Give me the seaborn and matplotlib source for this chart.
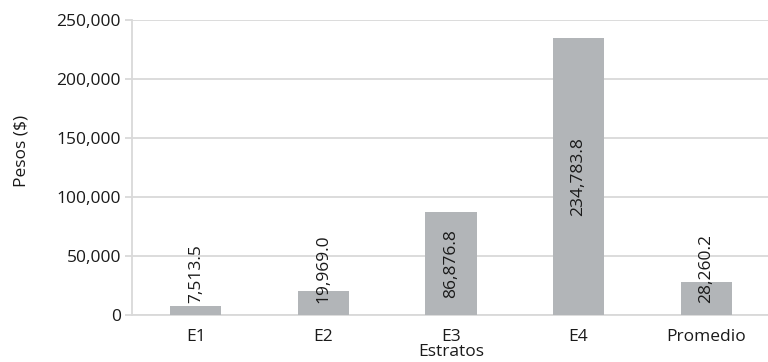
import matplotlib
matplotlib.use("Agg")
import matplotlib.pyplot as plt
import seaborn as sns
import pandas as pd
import numpy as np
from matplotlib.ticker import FuncFormatter, FixedLocator

categories = ["E1", "E2", "E3", "E4", "Promedio"]
values = [7513.5, 19969.0, 86876.8, 234783.8, 28260.2]
value_labels = ["7,513.5", "19,969.0", "86,876.8", "234,783.8", "28,260.2"]
y_ticks = [0, 50000, 100000, 150000, 200000, 250000]

sns.set_theme(style="white")
plt.rcParams["font.family"] = ["Open Sans", "DejaVu Sans"]

df = pd.DataFrame({"Estratos": categories, "Pesos": values})

fig = plt.figure(figsize=(7.68, 3.62), dpi=100)
ax = fig.add_axes([132 / 768, 1 - 315 / 362, 638 / 768, 295 / 362])

grid_c = "#d9d9d9"
txt_c = "#1a1a1a"
fs = 12.5
sns.barplot(data=df, x="Estratos", y="Pesos", color="#b2b5b8", width=0.4,
            saturation=1, linewidth=0, ax=ax, zorder=3)

ax.set_ylim(0, 250000)
ax.set_xlim(-0.5, 4.5)
ax.yaxis.set_major_locator(FixedLocator(y_ticks))
ax.yaxis.set_major_formatter(FuncFormatter(lambda v, p: f"{int(v):,}"))
ax.grid(axis="y", color=grid_c, linewidth=1.3, zorder=0)
ax.set_axisbelow(True)

for s in ["top", "right"]:
    ax.spines[s].set_visible(False)
for s in ["left", "bottom"]:
    ax.spines[s].set_color(grid_c)
    ax.spines[s].set_linewidth(1.3)

ax.set_xticks(range(len(categories)))
ax.set_xticklabels(categories)
ax.set_xticks(np.arange(-0.5, len(categories), 1.0), minor=True)
ax.tick_params(axis="x", which="major", length=0, labelsize=fs, pad=10, colors=txt_c)
ax.tick_params(axis="x", which="minor", length=5, width=1.3, color=grid_c, direction="out")
ax.tick_params(axis="y", which="major", length=5, width=1.3, color=grid_c, direction="out",
               labelsize=fs, pad=3, labelcolor=txt_c, left=True)

ax.set_xlabel("Estratos", fontsize=fs, labelpad=-1, color=txt_c)
ax.set_ylabel("Pesos ($)", fontsize=fs, labelpad=19, color=txt_c, y=0.556)

# value labels: centred in tall bars, sitting near the base in short ones
for i, (v, lab) in enumerate(zip(values, value_labels)):
    if v / 2 > 36000:
        ax.text(i, v / 2, lab, rotation=90, ha="center", va="center",
                fontsize=fs, color=txt_c, zorder=4)
    else:
        ax.text(i, 10500, lab, rotation=90, ha="center", va="bottom",
                fontsize=fs, color=txt_c, zorder=4)

fig.savefig("out.png", dpi=100)
